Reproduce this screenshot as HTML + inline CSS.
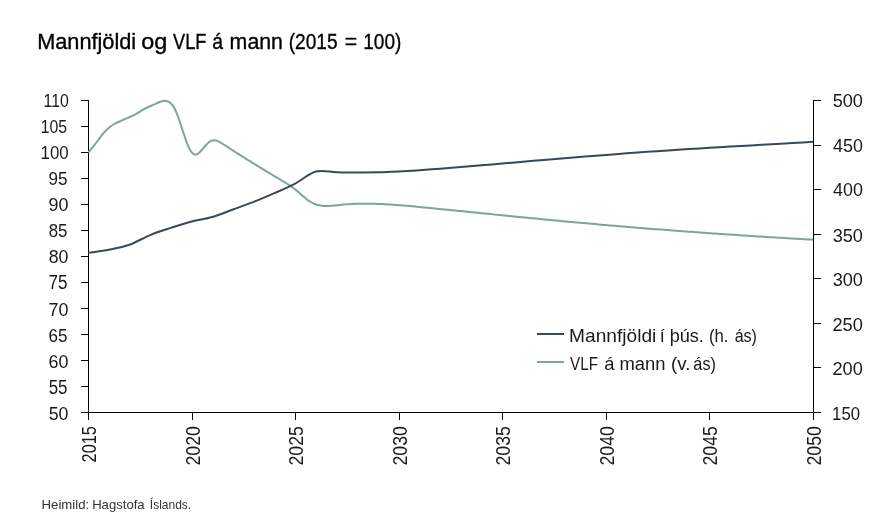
<!DOCTYPE html>
<html><head><meta charset="utf-8"><title>Mannfjöldi og VLF á mann</title><style>
html,body{margin:0;padding:0;background:#fff;overflow:hidden;}
svg{display:block;}
.t{opacity:0.999;will-change:opacity;}
text{font-family:"Liberation Sans", sans-serif;font-size:100px;}
</style></head><body>
<svg width="889" height="523" viewBox="0 0 889 523">
<rect width="889" height="523" fill="#fff"/>
<path d="M88.5 100V413M813.5 100V413M88 412.5H814M81 100.5H88.5M81 126.5H88.5M81 152.5H88.5M81 178.5H88.5M81 204.5H88.5M81 230.5H88.5M81 256.5H88.5M81 282.5H88.5M81 308.5H88.5M81 334.5H88.5M81 360.5H88.5M81 386.5H88.5M81 412.5H88.5M813.5 100.5H821M813.5 145.5H821M813.5 189.5H821M813.5 234.5H821M813.5 278.5H821M813.5 323.5H821M813.5 367.5H821M813.5 412.5H821M88.5 412.5V420M192.5 412.5V420M295.5 412.5V420M399.5 412.5V420M502.5 412.5V420M606.5 412.5V420M709.5 412.5V420M813.5 412.5V420" fill="none" stroke="#000" stroke-width="1"/>
<path d="M88.30 152.44 C89.30 151.35 90.30 150.20 91.30 148.99 C92.30 147.78 93.30 146.52 94.30 145.22 C95.30 143.93 96.30 142.61 97.30 141.27 C98.30 139.94 99.30 138.59 100.30 137.27 C101.30 135.94 102.30 134.65 103.30 133.44 C104.30 132.23 105.30 131.12 106.30 130.12 C107.30 129.12 108.30 128.23 109.30 127.42 C110.30 126.62 111.30 125.90 112.30 125.25 C113.30 124.60 114.30 124.01 115.30 123.47 C116.30 122.93 117.30 122.44 118.30 121.97 C119.30 121.50 120.30 121.05 121.30 120.62 C122.30 120.18 123.30 119.76 124.30 119.34 C125.30 118.92 126.30 118.51 127.30 118.08 C128.30 117.66 129.30 117.23 130.30 116.79 C131.30 116.34 132.30 115.88 133.30 115.40 C134.30 114.91 135.30 114.40 136.30 113.85 C137.30 113.30 138.30 112.72 139.30 112.09 C140.30 111.47 141.30 110.82 142.30 110.19 C143.30 109.56 144.30 108.95 145.30 108.41 C146.30 107.87 147.30 107.40 148.30 106.96 C149.30 106.52 150.30 106.11 151.30 105.70 C152.30 105.29 153.30 104.87 154.30 104.41 C155.30 103.95 156.30 103.46 157.30 102.99 C158.30 102.53 159.30 102.08 160.30 101.71 C161.30 101.35 162.30 101.06 163.30 100.90 C164.30 100.74 165.30 100.72 166.30 100.89 C167.30 101.06 168.30 101.42 169.30 102.07 C170.30 102.72 171.30 103.65 172.30 104.95 C173.30 106.25 174.30 107.92 175.30 110.04 C176.30 112.16 177.30 114.70 178.30 117.47 C179.30 120.24 180.30 123.25 181.30 126.31 C182.30 129.37 183.30 132.49 184.30 135.47 C185.30 138.45 186.30 141.30 187.30 143.84 C188.30 146.37 189.30 148.59 190.30 150.32 C191.30 152.04 192.30 153.22 193.30 153.87 C194.30 154.53 195.30 154.67 196.30 154.44 C197.30 154.20 198.30 153.57 199.30 152.68 C200.30 151.79 201.30 150.65 202.30 149.44 C203.30 148.22 204.30 146.94 205.30 145.77 C206.30 144.59 207.30 143.55 208.30 142.71 C209.30 141.87 210.30 141.23 211.30 140.79 C212.30 140.36 213.30 140.15 214.30 140.16 C215.30 140.18 216.30 140.42 217.30 140.81 C218.30 141.19 219.30 141.72 220.30 142.32 C221.30 142.91 222.30 143.58 223.30 144.23 C224.30 144.89 225.30 145.54 226.30 146.19 C227.30 146.84 228.30 147.49 229.30 148.14 C230.30 148.78 231.30 149.43 232.30 150.07 C233.30 150.71 234.30 151.36 235.30 151.99 C236.30 152.63 237.30 153.27 238.30 153.91 C239.30 154.54 240.30 155.18 241.30 155.81 C242.30 156.44 243.30 157.07 244.30 157.70 C245.30 158.33 246.30 158.95 247.30 159.58 C248.30 160.20 249.30 160.83 250.30 161.45 C251.30 162.07 252.30 162.69 253.30 163.31 C254.30 163.92 255.30 164.54 256.30 165.15 C257.30 165.77 258.30 166.38 259.30 166.99 C260.30 167.61 261.30 168.22 262.30 168.82 C263.30 169.43 264.30 170.04 265.30 170.64 C266.30 171.25 267.30 171.85 268.30 172.46 C269.30 173.06 270.30 173.66 271.30 174.26 C272.30 174.86 273.30 175.46 274.30 176.05 C275.30 176.65 276.30 177.24 277.30 177.84 C278.30 178.43 279.30 179.02 280.30 179.61 C281.30 180.21 282.30 180.80 283.30 181.40 C284.30 182.00 285.30 182.60 286.30 183.23 C287.30 183.85 288.30 184.50 289.30 185.17 C290.30 185.84 291.30 186.53 292.30 187.26 C293.30 188.00 294.30 188.76 295.30 189.57 C296.30 190.39 297.30 191.24 298.30 192.11 C299.30 192.98 300.30 193.86 301.30 194.74 C302.30 195.62 303.30 196.48 304.30 197.32 C305.30 198.16 306.30 198.96 307.30 199.70 C308.30 200.45 309.30 201.14 310.30 201.74 C311.30 202.35 312.30 202.87 313.30 203.33 C314.30 203.79 315.30 204.17 316.30 204.50 C317.30 204.82 318.30 205.08 319.30 205.29 C320.30 205.50 321.30 205.66 322.30 205.77 C323.30 205.88 324.30 205.95 325.30 205.98 C326.30 206.02 327.30 206.01 328.30 205.99 C329.30 205.96 330.30 205.90 331.30 205.83 C332.30 205.75 333.30 205.66 334.30 205.56 C335.30 205.46 336.30 205.35 337.30 205.24 C338.30 205.12 339.30 205.01 340.30 204.91 C341.30 204.81 342.30 204.71 343.30 204.62 C344.30 204.53 345.30 204.45 346.30 204.37 C347.30 204.30 348.30 204.23 349.30 204.16 C350.30 204.10 351.30 204.05 352.30 204.00 C353.30 203.95 354.30 203.90 355.30 203.87 C356.30 203.83 357.30 203.80 358.30 203.77 C359.30 203.74 360.30 203.72 361.30 203.71 C362.30 203.69 363.30 203.68 364.30 203.68 C365.30 203.67 366.30 203.67 367.30 203.68 C368.30 203.69 369.30 203.70 370.30 203.71 C371.30 203.73 372.30 203.75 373.30 203.77 C374.30 203.79 375.30 203.82 376.30 203.85 C377.30 203.89 378.30 203.92 379.30 203.96 C380.30 204.00 381.30 204.05 382.30 204.10 C383.30 204.14 384.30 204.20 385.30 204.25 C386.30 204.30 387.30 204.36 388.30 204.42 C389.30 204.48 390.30 204.55 391.30 204.62 C392.30 204.68 393.30 204.75 394.30 204.82 C395.30 204.90 396.30 204.97 397.30 205.05 C398.30 205.12 399.30 205.20 400.30 205.28 C401.30 205.37 402.30 205.45 403.30 205.53 C404.30 205.62 405.30 205.70 406.30 205.79 C407.30 205.88 408.30 205.97 409.30 206.06 C410.30 206.15 411.30 206.24 412.30 206.34 C413.30 206.43 414.30 206.52 415.30 206.62 C416.30 206.71 417.30 206.81 418.30 206.90 C419.30 207.00 420.30 207.09 421.30 207.19 C422.30 207.28 423.30 207.38 424.30 207.48 C425.30 207.57 426.30 207.67 427.30 207.77 C428.30 207.86 429.30 207.96 430.30 208.06 C431.30 208.16 432.30 208.25 433.30 208.35 C434.30 208.45 435.30 208.55 436.30 208.65 C437.30 208.74 438.30 208.84 439.30 208.94 C440.30 209.04 441.30 209.14 442.30 209.24 C443.30 209.34 444.30 209.44 445.30 209.53 C446.30 209.63 447.30 209.73 448.30 209.83 C449.30 209.93 450.30 210.03 451.30 210.13 C452.30 210.23 453.30 210.33 454.30 210.43 C455.30 210.53 456.30 210.63 457.30 210.73 C458.30 210.83 459.30 210.93 460.30 211.03 C461.30 211.13 462.30 211.23 463.30 211.34 C464.30 211.44 465.30 211.54 466.30 211.64 C467.30 211.74 468.30 211.84 469.30 211.94 C470.30 212.04 471.30 212.14 472.30 212.24 C473.30 212.34 474.30 212.45 475.30 212.55 C476.30 212.65 477.30 212.75 478.30 212.85 C479.30 212.95 480.30 213.05 481.30 213.15 C482.30 213.25 483.30 213.36 484.30 213.46 C485.30 213.56 486.30 213.66 487.30 213.76 C488.30 213.86 489.30 213.96 490.30 214.06 C491.30 214.17 492.30 214.27 493.30 214.37 C494.30 214.47 495.30 214.57 496.30 214.67 C497.30 214.77 498.30 214.87 499.30 214.97 C500.30 215.07 501.30 215.17 502.30 215.28 C503.30 215.38 504.30 215.48 505.30 215.58 C506.30 215.68 507.30 215.78 508.30 215.88 C509.30 215.98 510.30 216.08 511.30 216.18 C512.30 216.28 513.30 216.38 514.30 216.48 C515.30 216.58 516.30 216.68 517.30 216.78 C518.30 216.88 519.30 216.98 520.30 217.08 C521.30 217.18 522.30 217.27 523.30 217.37 C524.30 217.47 525.30 217.57 526.30 217.67 C527.30 217.77 528.30 217.87 529.30 217.97 C530.30 218.06 531.30 218.16 532.30 218.26 C533.30 218.36 534.30 218.46 535.30 218.55 C536.30 218.65 537.30 218.75 538.30 218.84 C539.30 218.94 540.30 219.04 541.30 219.13 C542.30 219.23 543.30 219.33 544.30 219.42 C545.30 219.52 546.30 219.62 547.30 219.71 C548.30 219.81 549.30 219.90 550.30 220.00 C551.30 220.09 552.30 220.19 553.30 220.28 C554.30 220.38 555.30 220.47 556.30 220.57 C557.30 220.66 558.30 220.75 559.30 220.85 C560.30 220.94 561.30 221.03 562.30 221.13 C563.30 221.22 564.30 221.31 565.30 221.41 C566.30 221.50 567.30 221.59 568.30 221.68 C569.30 221.78 570.30 221.87 571.30 221.96 C572.30 222.05 573.30 222.14 574.30 222.24 C575.30 222.33 576.30 222.42 577.30 222.51 C578.30 222.60 579.30 222.69 580.30 222.78 C581.30 222.87 582.30 222.96 583.30 223.05 C584.30 223.14 585.30 223.23 586.30 223.32 C587.30 223.41 588.30 223.50 589.30 223.59 C590.30 223.68 591.30 223.77 592.30 223.86 C593.30 223.94 594.30 224.03 595.30 224.12 C596.30 224.21 597.30 224.30 598.30 224.38 C599.30 224.47 600.30 224.56 601.30 224.65 C602.30 224.73 603.30 224.82 604.30 224.91 C605.30 225.00 606.30 225.08 607.30 225.17 C608.30 225.25 609.30 225.34 610.30 225.43 C611.30 225.51 612.30 225.60 613.30 225.68 C614.30 225.77 615.30 225.85 616.30 225.94 C617.30 226.02 618.30 226.11 619.30 226.19 C620.30 226.28 621.30 226.36 622.30 226.44 C623.30 226.53 624.30 226.61 625.30 226.70 C626.30 226.78 627.30 226.86 628.30 226.95 C629.30 227.03 630.30 227.11 631.30 227.19 C632.30 227.28 633.30 227.36 634.30 227.44 C635.30 227.52 636.30 227.61 637.30 227.69 C638.30 227.77 639.30 227.85 640.30 227.93 C641.30 228.01 642.30 228.09 643.30 228.17 C644.30 228.26 645.30 228.34 646.30 228.42 C647.30 228.50 648.30 228.58 649.30 228.66 C650.30 228.74 651.30 228.82 652.30 228.89 C653.30 228.97 654.30 229.05 655.30 229.13 C656.30 229.21 657.30 229.29 658.30 229.37 C659.30 229.45 660.30 229.52 661.30 229.60 C662.30 229.68 663.30 229.76 664.30 229.84 C665.30 229.91 666.30 229.99 667.30 230.07 C668.30 230.14 669.30 230.22 670.30 230.30 C671.30 230.37 672.30 230.45 673.30 230.53 C674.30 230.60 675.30 230.68 676.30 230.75 C677.30 230.83 678.30 230.91 679.30 230.98 C680.30 231.06 681.30 231.13 682.30 231.21 C683.30 231.28 684.30 231.35 685.30 231.43 C686.30 231.50 687.30 231.58 688.30 231.65 C689.30 231.73 690.30 231.80 691.30 231.87 C692.30 231.95 693.30 232.02 694.30 232.09 C695.30 232.16 696.30 232.24 697.30 232.31 C698.30 232.38 699.30 232.45 700.30 232.53 C701.30 232.60 702.30 232.67 703.30 232.74 C704.30 232.81 705.30 232.88 706.30 232.95 C707.30 233.03 708.30 233.10 709.30 233.17 C710.30 233.24 711.30 233.31 712.30 233.38 C713.30 233.45 714.30 233.52 715.30 233.59 C716.30 233.66 717.30 233.73 718.30 233.80 C719.30 233.87 720.30 233.93 721.30 234.00 C722.30 234.07 723.30 234.14 724.30 234.21 C725.30 234.28 726.30 234.35 727.30 234.41 C728.30 234.48 729.30 234.55 730.30 234.62 C731.30 234.68 732.30 234.75 733.30 234.82 C734.30 234.88 735.30 234.95 736.30 235.02 C737.30 235.08 738.30 235.15 739.30 235.22 C740.30 235.28 741.30 235.35 742.30 235.41 C743.30 235.48 744.30 235.54 745.30 235.61 C746.30 235.67 747.30 235.74 748.30 235.80 C749.30 235.87 750.30 235.93 751.30 236.00 C752.30 236.06 753.30 236.12 754.30 236.19 C755.30 236.25 756.30 236.32 757.30 236.38 C758.30 236.44 759.30 236.50 760.30 236.57 C761.30 236.63 762.30 236.69 763.30 236.76 C764.30 236.82 765.30 236.88 766.30 236.94 C767.30 237.00 768.30 237.07 769.30 237.13 C770.30 237.19 771.30 237.25 772.30 237.31 C773.30 237.37 774.30 237.43 775.30 237.49 C776.30 237.55 777.30 237.61 778.30 237.67 C779.30 237.73 780.30 237.79 781.30 237.85 C782.30 237.91 783.30 237.97 784.30 238.03 C785.30 238.09 786.30 238.15 787.30 238.21 C788.30 238.27 789.30 238.32 790.30 238.38 C791.30 238.44 792.30 238.50 793.30 238.56 C794.30 238.61 795.30 238.67 796.30 238.73 C797.30 238.79 798.30 238.84 799.30 238.90 C800.30 238.96 801.30 239.01 802.30 239.07 C803.30 239.13 804.30 239.18 805.30 239.24 C806.30 239.29 807.30 239.35 808.30 239.41 C809.30 239.46 810.30 239.52 811.30 239.57 C811.87 239.60 812.43 239.63 813.00 239.66" fill="none" stroke="#79a69e" stroke-width="2" stroke-linejoin="round"/>
<path d="M88.00 252.88 C94.90 251.82 101.81 251.06 108.71 249.70 C115.62 248.35 122.52 247.20 129.43 244.76 C136.33 242.32 143.24 237.88 150.14 235.06 C157.05 232.25 163.95 230.13 170.86 227.86 C177.76 225.58 184.67 223.22 191.57 221.42 C198.48 219.62 205.38 219.02 212.29 217.03 C219.19 215.05 226.10 212.04 233.00 209.51 C239.90 206.97 246.81 204.55 253.71 201.82 C260.62 199.10 267.52 196.20 274.43 193.16 C281.33 190.12 288.24 187.17 295.14 183.57 C302.05 179.97 308.95 173.48 315.86 171.58 C322.76 169.68 329.67 172.01 336.57 172.17 C343.48 172.32 350.38 172.46 357.29 172.49 C364.19 172.52 371.10 172.53 378.00 172.37 C384.90 172.21 391.81 171.89 398.71 171.54 C405.62 171.19 412.52 170.72 419.43 170.25 C426.33 169.78 433.24 169.24 440.14 168.71 C447.05 168.19 453.95 167.66 460.86 167.09 C467.76 166.53 474.67 165.93 481.57 165.33 C488.48 164.73 495.38 164.09 502.29 163.49 C509.19 162.88 516.10 162.29 523.00 161.69 C529.90 161.10 536.81 160.49 543.71 159.90 C550.62 159.30 557.52 158.71 564.43 158.14 C571.33 157.57 578.24 157.04 585.14 156.49 C592.05 155.95 598.95 155.41 605.86 154.88 C612.76 154.36 619.67 153.84 626.57 153.33 C633.48 152.83 640.38 152.34 647.29 151.86 C654.19 151.38 661.10 150.91 668.00 150.45 C674.90 150.00 681.81 149.55 688.71 149.12 C695.62 148.69 702.52 148.27 709.43 147.86 C716.33 147.44 723.24 147.02 730.14 146.62 C737.05 146.22 743.95 145.83 750.86 145.45 C757.76 145.06 764.67 144.71 771.57 144.31 C778.48 143.92 785.38 143.51 792.29 143.09 C799.19 142.67 806.10 142.21 813.00 141.78" fill="none" stroke="#384a58" stroke-width="2" stroke-linejoin="round"/>
<path d="M537 334H564" stroke="#384a58" stroke-width="2"/>
<path d="M537 362H564" stroke="#79a69e" stroke-width="2"/>
<g class="t">
<text transform="translate(37.16 48.90) scale(0.2172 0.2238)" fill="#000" stroke="#000" stroke-width="1.6">Mannfjöldi</text>
<text transform="translate(141.16 48.90) scale(0.2347 0.2238)" fill="#000" stroke="#000" stroke-width="1.6">og</text>
<text transform="translate(173.02 48.90) scale(0.1820 0.2238)" fill="#000" stroke="#000" stroke-width="1.6">VLF</text>
<text transform="translate(212.22 48.90) scale(0.1942 0.2238)" fill="#000" stroke="#000" stroke-width="1.6">á</text>
<text transform="translate(229.61 48.90) scale(0.2135 0.2238)" fill="#000" stroke="#000" stroke-width="1.6">mann</text>
<text transform="translate(288.65 48.90) scale(0.1911 0.2238)" fill="#000" stroke="#000" stroke-width="1.6">(2015</text>
<text transform="translate(344.84 48.90) scale(0.2125 0.2238)" fill="#000" stroke="#000" stroke-width="1.6">=</text>
<text transform="translate(363.28 48.90) scale(0.1903 0.2238)" fill="#000" stroke="#000" stroke-width="1.6">100)</text>
<text transform="translate(43.53 106.91) scale(0.1585 0.1915)" fill="#1a1a1a">110</text>
<text transform="translate(40.74 132.99) scale(0.1581 0.1915)" fill="#1a1a1a">105</text>
<text transform="translate(40.55 159.08) scale(0.1690 0.1915)" fill="#1a1a1a">100</text>
<text transform="translate(48.55 185.16) scale(0.1706 0.1915)" fill="#1a1a1a">95</text>
<text transform="translate(48.50 211.24) scale(0.1794 0.1915)" fill="#1a1a1a">90</text>
<text transform="translate(48.72 237.33) scale(0.1689 0.1915)" fill="#1a1a1a">85</text>
<text transform="translate(48.69 263.41) scale(0.1777 0.1915)" fill="#1a1a1a">80</text>
<text transform="translate(48.55 289.49) scale(0.1706 0.1943)" fill="#1a1a1a">75</text>
<text transform="translate(48.50 315.58) scale(0.1794 0.1915)" fill="#1a1a1a">70</text>
<text transform="translate(48.55 341.66) scale(0.1706 0.1915)" fill="#1a1a1a">65</text>
<text transform="translate(48.50 367.74) scale(0.1794 0.1915)" fill="#1a1a1a">60</text>
<text transform="translate(48.72 393.82) scale(0.1689 0.1943)" fill="#1a1a1a">55</text>
<text transform="translate(48.69 419.91) scale(0.1777 0.1915)" fill="#1a1a1a">50</text>
<text transform="translate(832.68 107.01) scale(0.1811 0.1915)" fill="#1a1a1a">500</text>
<text transform="translate(833.04 152.18) scale(0.1789 0.1915)" fill="#1a1a1a">450</text>
<text transform="translate(833.04 196.35) scale(0.1789 0.1915)" fill="#1a1a1a">400</text>
<text transform="translate(832.68 241.52) scale(0.1811 0.1915)" fill="#1a1a1a">350</text>
<text transform="translate(832.68 285.69) scale(0.1811 0.1915)" fill="#1a1a1a">300</text>
<text transform="translate(832.49 330.87) scale(0.1823 0.1915)" fill="#1a1a1a">250</text>
<text transform="translate(832.49 375.04) scale(0.1823 0.1915)" fill="#1a1a1a">200</text>
<text transform="translate(832.06 420.21) scale(0.1677 0.1915)" fill="#1a1a1a">150</text>
<text transform="translate(96.29 462.41) rotate(-90) scale(0.1629 0.2056)" fill="#1a1a1a">2015</text>
<text transform="translate(200.29 465.48) rotate(-90) scale(0.1770 0.2056)" fill="#1a1a1a">2020</text>
<text transform="translate(303.29 465.48) rotate(-90) scale(0.1770 0.2056)" fill="#1a1a1a">2025</text>
<text transform="translate(407.29 465.48) rotate(-90) scale(0.1770 0.2056)" fill="#1a1a1a">2030</text>
<text transform="translate(510.29 465.48) rotate(-90) scale(0.1770 0.2056)" fill="#1a1a1a">2035</text>
<text transform="translate(614.29 465.48) rotate(-90) scale(0.1770 0.2056)" fill="#1a1a1a">2040</text>
<text transform="translate(717.29 465.48) rotate(-90) scale(0.1770 0.2056)" fill="#1a1a1a">2045</text>
<text transform="translate(821.29 465.48) rotate(-90) scale(0.1770 0.2056)" fill="#1a1a1a">2050</text>
<text transform="translate(569.07 341.80) scale(0.1914 0.1875)" fill="#1a1a1a">Mannfjöldi</text>
<text transform="translate(659.63 341.80) scale(0.1811 0.1875)" fill="#1a1a1a">í þús.</text>
<text transform="translate(708.89 341.80) scale(0.1676 0.1875)" fill="#1a1a1a">(h.</text>
<text transform="translate(734.66 341.80) scale(0.1605 0.1875)" fill="#1a1a1a">ás)</text>
<text transform="translate(570.05 369.70) scale(0.1522 0.1903)" fill="#1a1a1a">VLF</text>
<text transform="translate(604.36 369.70) scale(0.1846 0.1903)" fill="#1a1a1a">á</text>
<text transform="translate(619.51 369.70) scale(0.1840 0.1903)" fill="#1a1a1a">mann</text>
<text transform="translate(671.08 369.70) scale(0.1865 0.1903)" fill="#1a1a1a">(v.</text>
<text transform="translate(693.35 369.70) scale(0.1628 0.1903)" fill="#1a1a1a">ás)</text>
<text transform="translate(41.54 508.70) scale(0.1320 0.1343)" fill="#333">Heimild:</text>
<text transform="translate(92.15 508.70) scale(0.1311 0.1343)" fill="#333">Hagstofa</text>
<text transform="translate(149.86 508.70) scale(0.1198 0.1343)" fill="#333">Íslands.</text>
</g>
</svg>
</body></html>
